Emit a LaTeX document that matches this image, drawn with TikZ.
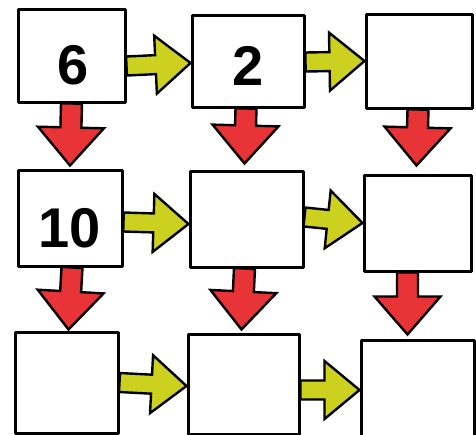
\documentclass[tikz,border=0pt]{standalone}
\usepackage{fontspec}
\setmainfont{Liberation Sans}
\usetikzlibrary{calc}
\definecolor{arrowyel}{RGB}{204,208,30}
\definecolor{arrowred}{RGB}{232,52,54}
\tikzset{
 box/.style={draw=black,line width=3pt,fill=white,inner sep=0pt,line join=round},
 num/.style={font=\bfseries\fontsize{56}{56}\selectfont,inner sep=0pt},
 % fat hand-drawn arrows, head at the target
 rarr/.style={fill=arrowyel,draw=black,line width=2.4pt,to path={
  ($(\tikztostart)!9.5pt!90:(\tikztotarget)$) -- ($(\tikztotarget)!36.27pt!-15.19:(\tikztostart)$)
  -- ($(\tikztotarget)!45.45pt!-39.64:(\tikztostart)$) -- (\tikztotarget)
  -- ($(\tikztotarget)!45.45pt!39.64:(\tikztostart)$) -- ($(\tikztotarget)!36.27pt!15.19:(\tikztostart)$)
  -- ($(\tikztostart)!9.5pt!-90:(\tikztotarget)$) -- cycle}},
 darr/.style={fill=arrowred,draw=black,line width=2.4pt,to path={
  ($(\tikztostart)!10.5pt!90:(\tikztotarget)$) -- ($(\tikztotarget)!39.42pt!-15.45:(\tikztostart)$)
  -- ($(\tikztotarget)!50.33pt!-40.97:(\tikztostart)$) -- (\tikztotarget)
  -- ($(\tikztotarget)!50.33pt!40.97:(\tikztostart)$) -- ($(\tikztotarget)!39.42pt!15.45:(\tikztostart)$)
  -- ($(\tikztostart)!10.5pt!-90:(\tikztotarget)$) -- cycle}}
}
\begin{document}
\begin{tikzpicture}[x=1pt,y=-1pt]
\useasboundingbox (0,0) rectangle (476,434);
\foreach \n/\x/\y/\w/\h in {1/71.5/55.5/107/93,2/248/61/112/92,3/419/61/106/94,
 4/70/218/104/96,5/246.5/219/113/96,6/417.5/223/107/96,
 7/66.5/382.5/103/101,8/243.5/384/111/100,9/417.5/390/113/100}{
 \node[box,minimum width=\w pt,minimum height=\h pt] (b\n) at (\x,\y) {};
}
\node[num] (n6) at ([shift={(2,9.5)}]b1.center) {6};
\node[num] (n2) at ([shift={(0.5,5)}]b2.center) {2};
\node[num] (n10) at ([shift={(-0.5,10)}]b4.center) {10};
% right arrows
\foreach \a/\b/\s/\t in {1/2/-10.5/-2,2/3/-1/0,4/5/-4/-5,5/6/2/0,7/8/0/-2,8/9/-6/0}{
 \draw[rarr] ([yshift=\s pt]b\a.east) to ([yshift=\t pt]b\b.west);
}
% down arrows
\foreach \a/\b/\s/\t in {1/4/0/3,2/5/-2/6,3/6/-1/8,4/7/2/1,5/8/-2/3,6/9/-10/4}{
 \draw[darr] ([xshift=\s pt]b\a.south) to ([xshift=\s pt,yshift=\t pt]b\b.north);
}
\end{tikzpicture}
\end{document}
